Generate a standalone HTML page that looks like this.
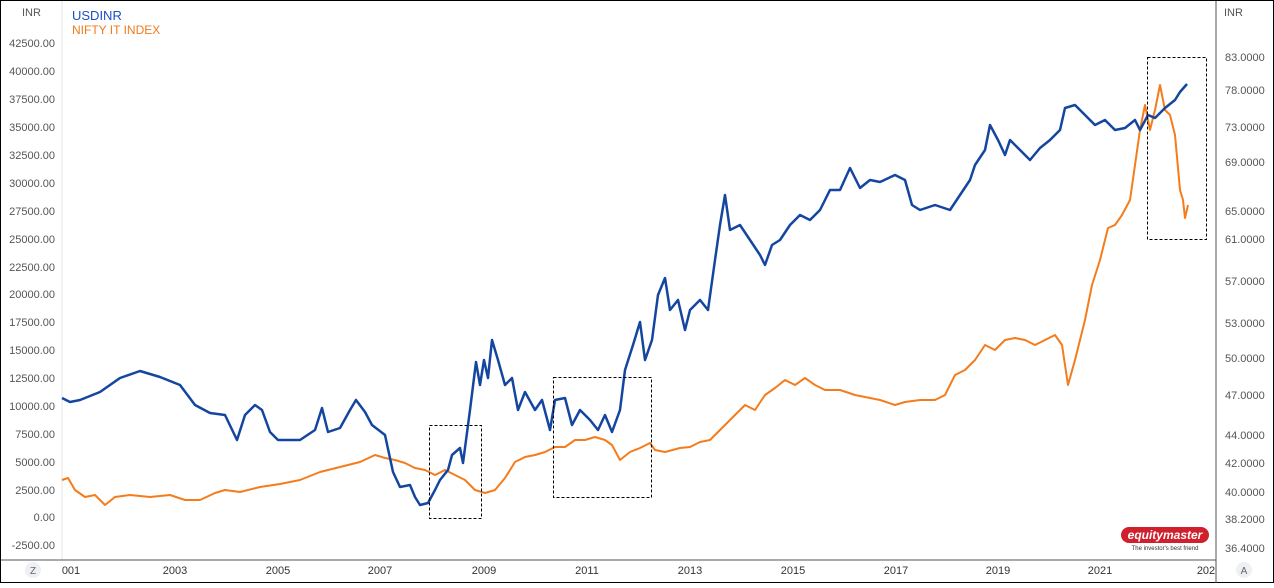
<!DOCTYPE html>
<html><head><style>
body{margin:0;background:#fff;}
svg text{font-family:"Liberation Sans",sans-serif;}
</style></head><body>
<svg width="1274" height="583" xmlns="http://www.w3.org/2000/svg">
<rect x="0.5" y="0.5" width="1273" height="582" fill="#fff" stroke="#000"/>
<line x1="62" y1="1" x2="62" y2="560" stroke="#e6e6e6"/>
<line x1="1216" y1="1" x2="1216" y2="583" stroke="#555"/>
<line x1="1" y1="560" x2="1216" y2="560" stroke="#555"/>
<g font-size="11" fill="#555" text-anchor="end">
<text x="22" y="16" text-anchor="start">INR</text>
<text x="55" y="47">42500.00</text><text x="55" y="75">40000.00</text><text x="55" y="103">37500.00</text>
<text x="55" y="131">35000.00</text><text x="55" y="159">32500.00</text><text x="55" y="187">30000.00</text>
<text x="55" y="215">27500.00</text><text x="55" y="243">25000.00</text><text x="55" y="271">22500.00</text>
<text x="55" y="298">20000.00</text><text x="55" y="326">17500.00</text><text x="55" y="354">15000.00</text>
<text x="55" y="382">12500.00</text><text x="55" y="410">10000.00</text><text x="55" y="438">7500.00</text>
<text x="55" y="466">5000.00</text><text x="55" y="494">2500.00</text><text x="55" y="521">0.00</text>
<text x="55" y="549">-2500.00</text>
</g>
<g font-size="11" fill="#555" text-anchor="start">
<text x="1224" y="16">INR</text>
<text x="1225" y="61">83.0000</text><text x="1225" y="94">78.0000</text><text x="1225" y="131">73.0000</text>
<text x="1225" y="166">69.0000</text><text x="1225" y="215">65.0000</text><text x="1225" y="243">61.0000</text>
<text x="1225" y="285">57.0000</text><text x="1225" y="327">53.0000</text><text x="1225" y="362">50.0000</text>
<text x="1225" y="399">47.0000</text><text x="1225" y="439">44.0000</text><text x="1225" y="467">42.0000</text>
<text x="1225" y="496">40.0000</text><text x="1225" y="523">38.2000</text><text x="1225" y="552">36.4000</text>
</g>
<g font-size="11" fill="#333" text-anchor="middle">
<text x="71" y="574">001</text><text x="175" y="574">2003</text><text x="278" y="574">2005</text>
<text x="380" y="574">2007</text><text x="484" y="574">2009</text><text x="587" y="574">2011</text>
<text x="690" y="574">2013</text><text x="793" y="574">2015</text><text x="896" y="574">2017</text>
<text x="998" y="574">2019</text><text x="1100" y="574">2021</text><text x="1206" y="574">202</text>
</g>
<circle cx="33" cy="570" r="8" fill="#eef0f4"/><text x="33" y="574" font-size="10" fill="#666" text-anchor="middle">Z</text>
<circle cx="1244" cy="570" r="8" fill="#eef0f4"/><text x="1244" y="574" font-size="10" fill="#666" text-anchor="middle">A</text>
<text x="72" y="20" font-size="13" fill="#1f4fc2">USDINR</text>
<text x="72" y="34" font-size="12" fill="#f07a1a">NIFTY IT INDEX</text>
<polyline fill="none" stroke="#f47c1c" stroke-width="2" stroke-linejoin="round" points="62,480 68,478 75,490 85,497 95,495 105,505 115,497 130,495 150,497 170,495 185,500 200,500 215,493 225,490 240,492 260,487 280,484 300,480 320,472 340,467 360,462 375,455 385,458 395,460 405,463 415,468 425,470 435,475 445,470 455,475 465,480 475,490 485,493 495,490 505,478 515,462 525,457 535,455 545,452 555,447 565,447 575,440 585,440 595,437 605,440 612,445 620,460 630,452 640,448 650,443 655,450 665,452 680,448 690,447 700,442 710,440 720,430 730,420 745,405 755,410 765,395 775,388 785,380 795,385 805,378 815,385 825,390 840,390 855,395 870,398 880,400 895,405 905,402 920,400 935,400 945,395 955,375 965,370 975,360 985,345 995,350 1005,340 1015,338 1025,340 1035,345 1045,340 1055,335 1062,345 1068,385 1075,360 1085,320 1092,285 1100,260 1108,228 1115,225 1122,215 1130,200 1135,165 1140,130 1145,105 1150,130 1155,110 1160,85 1165,110 1170,115 1175,135 1180,190 1183,200 1185,218 1188,205"/>
<polyline fill="none" stroke="#1446a0" stroke-width="2.5" stroke-linejoin="round" points="62,398 70,402 80,400 100,392 120,378 140,371 160,377 180,385 195,405 210,413 225,415 237,440 245,415 255,405 262,410 270,432 278,440 300,440 315,430 322,408 328,432 340,428 350,410 356,400 365,412 372,425 385,435 393,472 400,487 410,485 415,497 420,505 428,503 435,490 440,480 448,470 452,455 460,448 463,463 470,410 476,362 480,385 484,360 488,378 492,340 498,360 505,385 512,378 518,410 525,392 535,410 542,400 550,430 555,400 565,398 572,425 580,410 590,420 598,430 605,415 612,432 620,410 625,370 633,345 640,322 645,360 652,340 658,295 665,278 670,310 678,300 685,330 690,310 700,300 708,310 715,260 720,225 725,195 730,230 740,225 750,240 760,255 765,265 772,245 780,240 790,225 800,215 810,220 820,210 830,190 840,190 850,168 860,188 870,180 880,182 895,175 905,180 912,205 920,210 935,205 950,210 960,195 970,180 975,165 985,150 990,125 998,140 1005,155 1010,140 1020,150 1030,160 1040,148 1050,140 1060,130 1065,108 1075,105 1085,115 1095,125 1105,120 1115,130 1125,128 1135,120 1140,130 1148,115 1155,118 1165,108 1175,100 1180,92 1187,84"/>
<g fill="none" stroke="#000" stroke-width="1" stroke-dasharray="3,2">
<rect x="429.5" y="425.5" width="52" height="93"/>
<rect x="553.5" y="377.5" width="98" height="120"/>
<rect x="1147.5" y="57.5" width="59" height="182"/>
</g>
<rect x="1121" y="527" width="88" height="16" rx="8" fill="#d0202e"/>
<text x="1165" y="539" font-size="12" font-weight="bold" font-style="italic" fill="#fff" text-anchor="middle">equitymaster</text>
<text x="1165" y="550" font-size="6" fill="#333" text-anchor="middle">The investor's best friend</text>
</svg>
</body></html>
